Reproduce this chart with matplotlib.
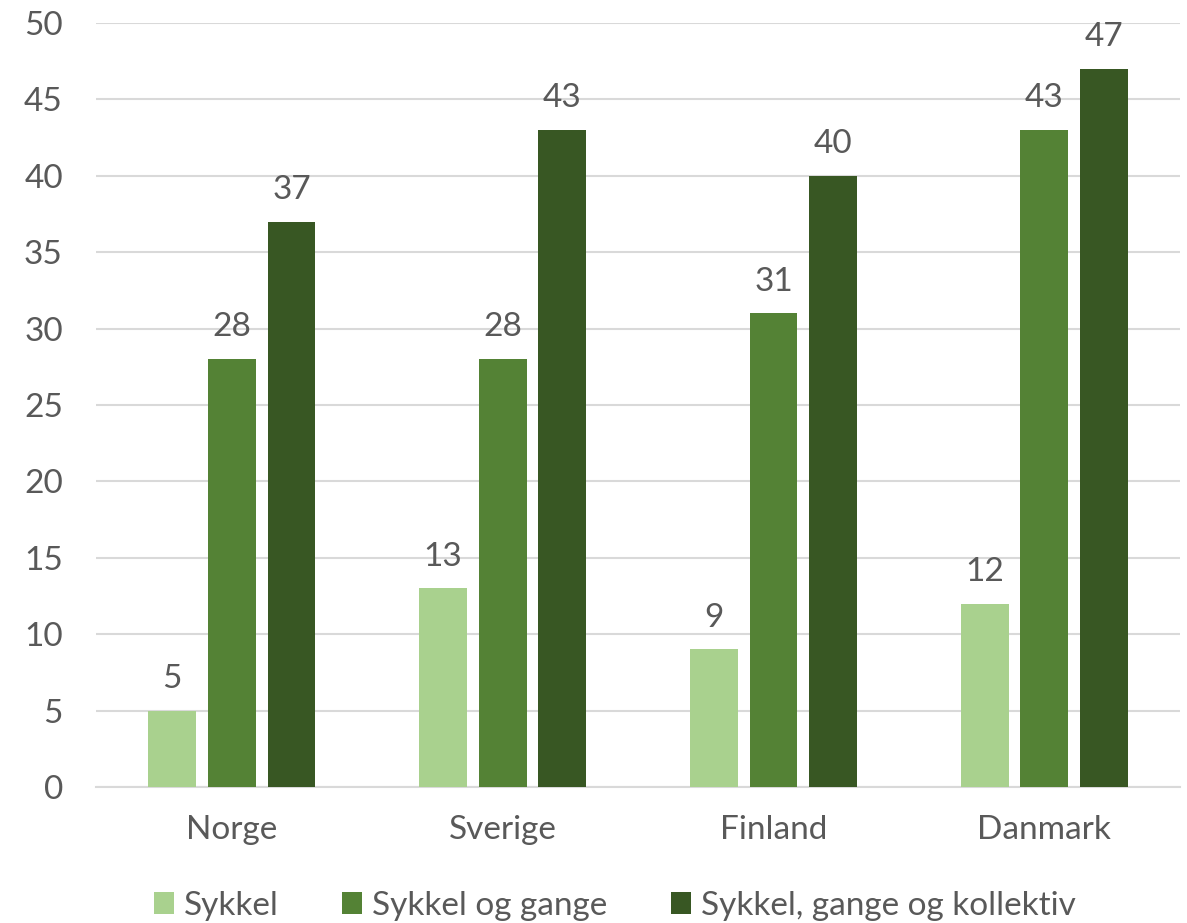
import matplotlib
matplotlib.use("Agg")
import matplotlib.pyplot as plt
import numpy as np

countries = ["Norge", "Sverige", "Finland", "Danmark"]
series_names = ["Sykkel", "Sykkel og gange", "Sykkel, gange og kollektiv"]
sykkel = [5, 13, 9, 12]
sykkel_gange = [28, 28, 31, 43]
sykkel_gange_kollektiv = [37, 43, 40, 47]
y_ticks = [0, 5, 10, 15, 20, 25, 30, 35, 40, 45, 50]

colors = ["#A9D18E", "#548235", "#385723"]
text_color = "#595959"

plt.rcParams["font.family"] = ["Lato", "DejaVu Sans"]

fig = plt.figure(figsize=(11.87, 9.23), dpi=100)
ax = fig.add_axes([0.081, 0.1474, 0.913, 0.8276])

x = np.arange(len(countries))
width = 0.177
step = 0.221
all_series = [sykkel, sykkel_gange, sykkel_gange_kollektiv]
for i, (vals, name) in enumerate(zip(all_series, series_names)):
    bars = ax.bar(x + (i - 1) * step, vals, width, color=colors[i], label=name, zorder=3)
    for b, v in zip(bars, vals):
        ax.text(b.get_x() + b.get_width() / 2, v + 1.1, str(v), ha="center", va="bottom",
                fontsize=24, color=text_color)

ax.set_xlim(-0.5, 3.5)
ax.set_ylim(0, 50)
ax.set_yticks(y_ticks)
ax.set_xticks(x)
ax.set_xticklabels(countries)
ax.tick_params(axis="both", length=0, colors=text_color, labelsize=24)
ax.tick_params(axis="y", pad=24)
ax.tick_params(axis="x", pad=20)
ax.grid(axis="y", color="#D9D9D9", linewidth=1.5, zorder=0)
for s in ["top", "right", "left"]:
    ax.spines[s].set_visible(False)
ax.spines["bottom"].set_color("#D9D9D9")
ax.spines["bottom"].set_linewidth(1.5)

fig.legend(loc="lower center", bbox_to_anchor=(0.518, -0.03), ncol=3, frameon=False,
           fontsize=24, labelcolor=text_color, handlelength=0.6, handleheight=0.6,
           handletextpad=0.3, columnspacing=1.9)

fig.savefig("out.png", dpi=100)
